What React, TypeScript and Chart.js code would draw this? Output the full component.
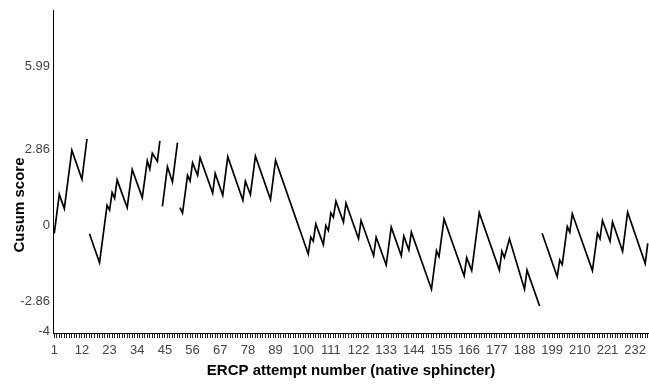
import React, { useEffect, useRef } from "react";
import { Chart, registerables } from "chart.js";

Chart.register(...registerables);

// Cusum segments (the chart resets after crossing a limit): attempt numbers and values at turning points
const seg1Attempts = [1, 3, 5, 8, 12, 14];
const seg1Cusum = [-0.3, 1.17, 0.64, 2.84, 1.74, 3.26];

const seg2Attempts = [15, 19, 22, 23, 24, 25, 26, 30, 32, 36, 38, 39, 40, 42, 43];
const seg2Cusum = [-0.31, -1.4, 0.76, 0.58, 1.24, 1.03, 1.72, 0.67, 2.11, 1.05, 2.44, 2.12, 2.72, 2.42, 3.19];

const seg3Attempts = [44, 46, 48, 50];
const seg3Cusum = [0.72, 2.21, 1.64, 3.12];

const seg4Attempts = [
  51, 52, 54, 55, 56, 58, 59, 64, 65, 68, 70, 76, 77, 79, 81, 87, 89, 102, 103, 104, 105, 108, 109, 110,
  111, 112, 113, 116, 117, 122, 123, 128, 129, 133, 135, 139, 140, 142, 143, 151, 153, 154, 156, 164, 165,
  167, 170, 178, 179, 180, 182, 188, 189, 194,
];
const seg4Cusum = [
  0.67, 0.47, 1.89, 1.68, 2.36, 1.89, 2.55, 1.22, 1.96, 1.14, 2.59, 0.95, 1.67, 1.17, 2.61, 0.98, 2.46, -1.07,
  -0.44, -0.59, 0.06, -0.72, 0.0, -0.19, 0.47, 0.31, 0.92, 0.13, 0.84, -0.5, 0.19, -1.14, -0.44, -1.49, -0.06,
  -1.14, -0.4, -0.92, -0.25, -2.4, -0.95, -1.17, 0.25, -1.9, -1.21, -1.7, 0.48, -1.68, -0.97, -1.21, -0.5,
  -2.4, -1.68, -3.03,
];

const seg5Attempts = [195, 201, 202, 203, 205, 206, 207, 215, 217, 218, 219, 222, 223, 227, 229, 236, 237];
const seg5Cusum = [-0.29, -1.93, -1.3, -1.47, -0.04, -0.25, 0.44, -1.7, -0.29, -0.5, 0.19, -0.59, 0.13, -0.97, 0.5, -1.43, -0.67];

const xTickLabels = [1, 12, 23, 34, 45, 56, 67, 78, 89, 100, 111, 122, 133, 144, 155, 166, 177, 188, 199, 210, 221, 232];
const yTickValues = [-4, -2.86, 0, 2.86, 5.99];
const lastAttempt = 237;
const yMin = -4.05;
const yMax = 8.12;

const xTitle = "ERCP attempt number (native sphincter)";
const yTitle = "Cusum score";

const segments: [number[], number[]][] = [
  [seg1Attempts, seg1Cusum],
  [seg2Attempts, seg2Cusum],
  [seg3Attempts, seg3Cusum],
  [seg4Attempts, seg4Cusum],
  [seg5Attempts, seg5Cusum],
];

const FONT = 'Arial, "Liberation Sans", sans-serif';

const titlePlugin = {
  id: "axisTitles",
  afterDraw(chart: any) {
    const { ctx, chartArea } = chart;
    ctx.save();
    ctx.fillStyle = "#000";
    ctx.font = `bold 15px ${FONT}`;
    ctx.textAlign = "center";
    ctx.textBaseline = "middle";
    ctx.fillText(xTitle, (chartArea.left + chartArea.right) / 2, 371);
    ctx.translate(20, 205);
    ctx.rotate(-Math.PI / 2);
    ctx.fillText(yTitle, 0, 0);
    ctx.restore();
  },
};

export default function App() {
  const ref = useRef<HTMLCanvasElement>(null);
  useEffect(() => {
    document.body.style.margin = "0";
    const canvas = ref.current!;
    const chart = new Chart(canvas, {
      type: "line",
      data: {
        datasets: segments.map(([xs, ys]) => ({
          data: xs.map((x, i) => ({ x, y: ys[i] })),
          borderColor: "#000",
          borderWidth: 1.7,
          pointRadius: 0,
          tension: 0,
          fill: false,
        })),
      },
      options: {
        responsive: false,
        animation: false,
        devicePixelRatio: 1,
        layout: { padding: { top: 10, right: 0, left: 0, bottom: 0 } },
        plugins: { legend: { display: false }, tooltip: { enabled: false } },
        scales: {
          x: {
            type: "linear",
            min: 0.5,
            max: lastAttempt + 0.5,
            afterBuildTicks: (s: any) => {
              const t = [];
              for (let i = 1; i <= lastAttempt; i++) t.push({ value: i });
              s.ticks = t;
            },
            afterFit: (s: any) => {
              s.height = 51;
              s.paddingLeft = 0;
              s.paddingRight = 0;
            },
            ticks: {
              autoSkip: false,
              maxRotation: 0,
              minRotation: 0,
              padding: 5,
              color: "#444",
              font: { family: FONT, size: 13 },
              callback: (v: any) => (xTickLabels.includes(Number(v)) ? String(v) : ""),
            },
            grid: { drawOnChartArea: false, drawTicks: true, tickLength: 5, color: "#222", lineWidth: 1 },
            border: { color: "#000", width: 1 },
          },
          y: {
            type: "linear",
            min: yMin,
            max: yMax,
            afterBuildTicks: (s: any) => {
              s.ticks = yTickValues.map((v) => ({ value: v }));
            },
            afterFit: (s: any) => {
              s.width = 53;
              s.paddingTop = 0;
              s.paddingBottom = 0;
            },
            ticks: {
              padding: 3,
              color: "#444",
              font: { family: FONT, size: 13 },
              callback: (v: any) => String(v),
            },
            grid: { drawOnChartArea: false, drawTicks: false },
            border: { color: "#000", width: 1 },
          },
        },
      },
      plugins: [titlePlugin],
    });
    return () => chart.destroy();
  }, []);
  return (
    <div style={{ position: "absolute", left: 0, top: 0 }}>
      <canvas ref={ref} width={649} height={384} style={{ display: "block" }} />
    </div>
  );
}
